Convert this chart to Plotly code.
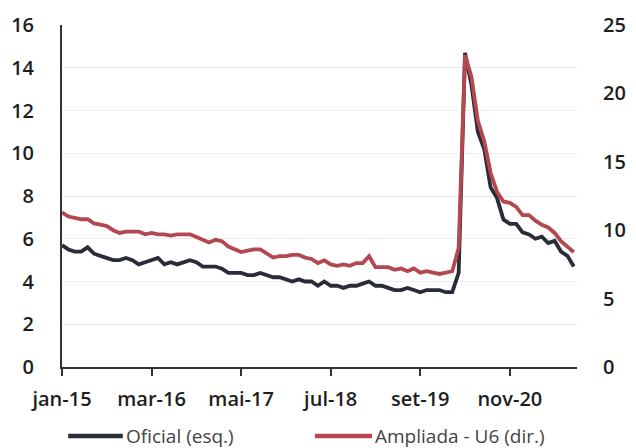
import plotly.graph_objects as go

months_pt = ["jan", "fev", "mar", "abr", "mai", "jun", "jul", "ago", "set", "out", "nov", "dez"]
years = [15, 16, 17, 18, 19, 20, 21]

oficial = [
    5.7, 5.5, 5.4, 5.4, 5.6, 5.3, 5.2, 5.1, 5.0, 5.0, 5.1, 5.0,
    4.8, 4.9, 5.0, 5.1, 4.8, 4.9, 4.8, 4.9, 5.0, 4.9, 4.7, 4.7,
    4.7, 4.6, 4.4, 4.4, 4.4, 4.3, 4.3, 4.4, 4.3, 4.2, 4.2, 4.1,
    4.0, 4.1, 4.0, 4.0, 3.8, 4.0, 3.8, 3.8, 3.7, 3.8, 3.8, 3.9,
    4.0, 3.8, 3.8, 3.7, 3.6, 3.6, 3.7, 3.6, 3.5, 3.6, 3.6, 3.6,
    3.5, 3.5, 4.4, 14.7, 13.2, 11.0, 10.2, 8.4, 7.9, 6.9, 6.7, 6.7,
    6.3, 6.2, 6.0, 6.1, 5.8, 5.9, 5.4, 5.2, 4.7,
]
u6 = [
    11.3, 11.0, 10.9, 10.8, 10.8, 10.5, 10.4, 10.3, 10.0, 9.8, 9.9, 9.9,
    9.9, 9.7, 9.8, 9.7, 9.7, 9.6, 9.7, 9.7, 9.7, 9.5, 9.3, 9.1,
    9.3, 9.2, 8.8, 8.6, 8.4, 8.5, 8.6, 8.6, 8.3, 8.0, 8.1, 8.1,
    8.2, 8.2, 8.0, 7.9, 7.6, 7.8, 7.5, 7.4, 7.5, 7.4, 7.6, 7.6,
    8.1, 7.3, 7.3, 7.3, 7.1, 7.2, 7.0, 7.2, 6.9, 7.0, 6.9, 6.8,
    6.9, 7.0, 8.7, 22.8, 21.2, 18.0, 16.5, 14.2, 12.8, 12.1, 12.0, 11.7,
    11.1, 11.1, 10.7, 10.4, 10.2, 9.8, 9.2, 8.8, 8.4,
]
labels_all = [f"{m}-{y}" for y in years for m in months_pt][:len(oficial)]
x = list(range(len(oficial)))
tick_idx = [0, 14, 28, 42, 56, 70]
tick_text = [labels_all[i] for i in tick_idx]

left_ticks = [0, 2, 4, 6, 8, 10, 12, 14, 16]
right_ticks = [0, 5, 10, 15, 20, 25]

FONT = "'Open Sans', sans-serif"
BLACK = "#2a2c3a"
RED = "#b34850"
TICKFONT = dict(size=20, color="#1e1e1e", weight=600)

fig = go.Figure()
fig.add_trace(go.Scatter(x=x, y=oficial, mode="lines", name="Oficial (esq.)",
                         line=dict(color=BLACK, width=3.8), yaxis="y", showlegend=False))
fig.add_trace(go.Scatter(x=x, y=u6, mode="lines", name="Ampliada - U6 (dir.)",
                         line=dict(color=RED, width=3.8), yaxis="y2", showlegend=False))

fig.update_layout(
    width=636, height=448,
    margin=dict(l=62, r=59, t=25, b=81, autoexpand=False),
    paper_bgcolor="white", plot_bgcolor="white",
    font=dict(family=FONT, size=20, color="#222"),
    xaxis=dict(range=[0, 80.5], tickvals=tick_idx, ticktext=tick_text,
               showgrid=False, zeroline=False, showline=True, linecolor="#333", linewidth=2,
               ticks="outside", ticklen=7, tickwidth=2, tickcolor="#333",
               ticklabelstandoff=6, tickfont=TICKFONT),
    yaxis=dict(range=[0, 16], tickvals=left_ticks, showgrid=True, gridcolor="#ececec", gridwidth=1,
               zeroline=False, showline=True, linecolor="#333", linewidth=2, ticks="",
               ticklabelstandoff=22, tickfont=TICKFONT),
    yaxis2=dict(range=[0, 25], tickvals=right_ticks, overlaying="y", side="right",
                showgrid=False, zeroline=False, showline=False, ticks="",
                ticklabelstandoff=25, tickfont=TICKFONT),
)

# manual legend
leg_y = -0.202
fig.add_shape(type="line", xref="paper", yref="paper", x0=0.012, x1=0.118, y0=leg_y, y1=leg_y,
              line=dict(color=BLACK, width=4.5))
fig.add_shape(type="line", xref="paper", yref="paper", x0=0.491, x1=0.602, y0=leg_y, y1=leg_y,
              line=dict(color=RED, width=4.5))
fig.add_annotation(text="Oficial (esq.)", xref="paper", yref="paper", x=0.12, y=leg_y,
                   xanchor="left", yanchor="middle", showarrow=False,
                   font=dict(size=19, color="#444", family=FONT))
fig.add_annotation(text="Ampliada - U6 (dir.)", xref="paper", yref="paper", x=0.603, y=leg_y,
                   xanchor="left", yanchor="middle", showarrow=False,
                   font=dict(size=19, color="#444", family=FONT))

fig.write_html("out.html", config={"displayModeBar": False},
               post_script="document.body.style.margin='0';document.body.style.overflow='hidden';")
